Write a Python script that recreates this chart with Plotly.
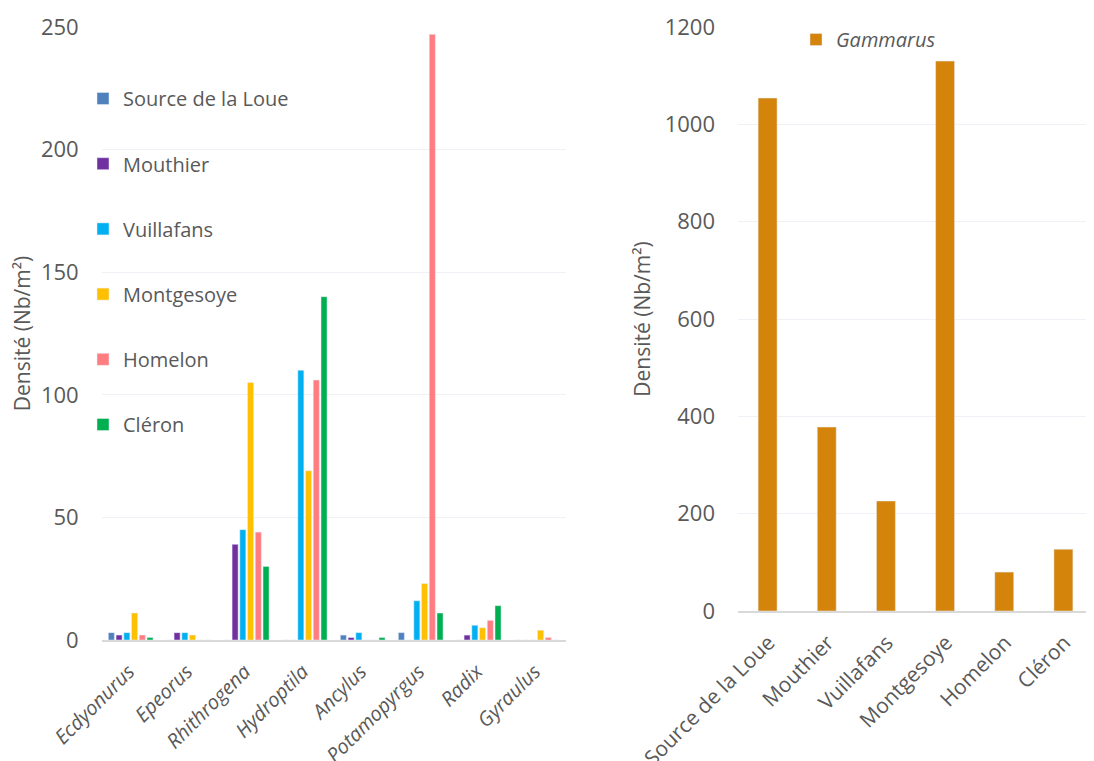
import plotly.graph_objects as go

taxa = ["Ecdyonurus", "Epeorus", "Rhithrogena", "Hydroptila", "Ancylus",
        "Potamopyrgus", "Radix", "Gyraulus"]
stations = ["Source de la Loue", "Mouthier", "Vuillafans", "Montgesoye", "Homelon", "Cléron"]

source_loue = [3, 0, 0, 0, 2, 3, 0, 0]
mouthier = [2, 3, 39, 0, 1, 0, 2, 0]
vuillafans = [3, 3, 45, 110, 3, 16, 6, 0]
montgesoye = [11, 2, 105, 69, 0, 23, 5, 4]
homelon = [2, 0, 44, 106, 0, 247, 8, 1]
cleron = [1, 0, 30, 140, 1, 11, 14, 0]

gammarus = [1054, 378, 226, 1130, 80, 127]

series = [source_loue, mouthier, vuillafans, montgesoye, homelon, cleron]
colors = ["#4f81bd", "#7030a0", "#00b0f0", "#ffc000", "#ff7c80", "#00b050"]

FONT = "Open Sans"
GREY = "#595959"
W, H = 1094, 761
OFF = 8  # page body margin


def px(x):
    return (x - OFF) / W


def py(y):
    return 1 - (y - OFF) / H


fig = go.Figure()
for i, (name, vals, col) in enumerate(zip(stations, series, colors)):
    fig.add_trace(go.Bar(x=taxa, y=vals, name=name, marker_color=col,
                         xaxis="x", yaxis="y", legendgroup=f"g{i}", legend="legend"))

fig.add_trace(go.Bar(x=stations, y=gammarus, name="<i>Gammarus</i>", marker_color="#d4840a",
                     width=0.32, xaxis="x2", yaxis="y2", legend="legend2"))

grid = "#f0f0f6"
axline = "#d9d9d9"

fig.update_layout(
    width=W, height=H,
    margin=dict(l=0, r=0, t=0, b=0, autoexpand=False),
    paper_bgcolor="white", plot_bgcolor="white",
    font=dict(family=FONT, color=GREY, size=20),
    barmode="group", bargap=0.2, bargroupgap=0.22,
    xaxis=dict(domain=[px(101.7), px(565.7)], anchor="y", tickangle=-45, automargin=False,
               tickfont=dict(size=20, style="italic", color=GREY),
               showline=True, linecolor=axline, linewidth=2, ticks="",
               ticklabelstandoff=10, ticklabelshift=-2),
    yaxis=dict(domain=[py(640), py(27)], anchor="x", range=[0, 250], dtick=50,
               automargin=False,
               showgrid=True, gridcolor=grid, gridwidth=1, zeroline=False,
               tickfont=dict(size=22, color=GREY), ticklabelstandoff=22,
               title=dict(text="Densité (Nb/m²)", font=dict(size=21, color=GREY), standoff=8)),
    xaxis2=dict(domain=[px(738), px(1093)], anchor="y2", tickangle=-45, automargin=False,
                tickfont=dict(size=21, color=GREY),
                showline=True, linecolor=axline, linewidth=2, ticks="",
                ticklabelstandoff=9, ticklabelshift=1),
    yaxis2=dict(domain=[py(611), py(27)], anchor="x2", range=[0, 1200], dtick=200,
                automargin=False,
                showgrid=True, gridcolor=grid, gridwidth=1, zeroline=False,
                tickfont=dict(size=22, color=GREY), ticklabelstandoff=22,
                title=dict(text="Densité (Nb/m²)", font=dict(size=21, color=GREY), standoff=8)),
    legend=dict(x=px(83), y=py(79), xanchor="left", yanchor="top",
                font=dict(size=20, color=GREY), tracegroupgap=36.2,
                bgcolor="rgba(0,0,0,0)", itemwidth=30),
    legend2=dict(x=px(796), y=py(20), xanchor="left", yanchor="top",
                 font=dict(size=20, color=GREY), bgcolor="rgba(0,0,0,0)", itemwidth=30),
)

fig.write_html("out.html")
